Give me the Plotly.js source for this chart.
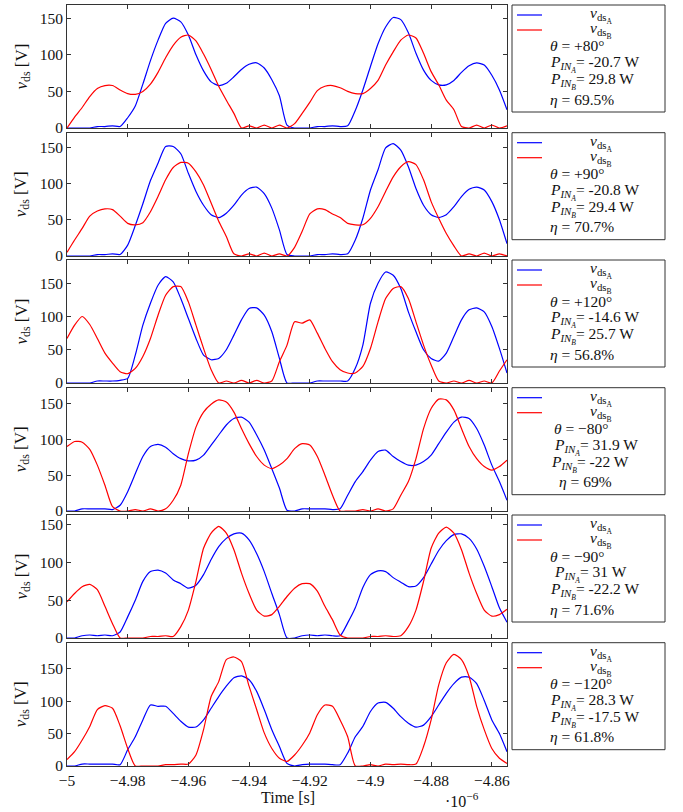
<!DOCTYPE html>
<html><head><meta charset="utf-8">
<script src="https://cdn.plot.ly/plotly-3.0.1.min.js"></script>
<style>html,body{margin:0;padding:0;background:#fff;}#chart{width:683px;height:812px;}</style>
</head><body><div id="chart"></div>
<script>
// time axis in units of 1e-6 s
const time = [-5.0000,-4.9975,-4.9950,-4.9925,-4.9900,-4.9875,-4.9850,-4.9825,-4.9800,-4.9775,
-4.9750,-4.9725,-4.9700,-4.9675,-4.9650,-4.9625,-4.9600,-4.9575,-4.9550,-4.9525,
-4.9500,-4.9475,-4.9450,-4.9425,-4.9400,-4.9375,-4.9350,-4.9325,-4.9300,-4.9275,
-4.9250,-4.9225,-4.9200,-4.9175,-4.9150,-4.9125,-4.9100,-4.9075,-4.9050,-4.9025,
-4.9000,-4.8975,-4.8950,-4.8925,-4.8900,-4.8875,-4.8850,-4.8825,-4.8800,-4.8775,
-4.8750,-4.8725,-4.8700,-4.8675,-4.8650,-4.8625,-4.8600,-4.8575,-4.8550];

const vdsA_p80 = [0,0,0,0,2,2,3,2,14,30, 60,92,120,143,150,145,127,100,78,63, 58,61,70,80,87,89,82,66,44,4, 0,0,0,2,2,3,2,3,24,52, 84,115,138,151,148,130,102,79,65,59, 59,65,76,85,89,86,72,52,25];
const vdsB_p80 = [0,15,28,43,54,58,58,52,47,46, 50,60,76,96,113,124,127,119,101,80, 57,38,20,0,3,0,4,0,4,0, 6,20,35,51,57,58,55,50,47,47, 54,65,86,104,120,127,123,102,77,59, 38,25,2,0,4,0,4,0,3];

const vdsA_p90 = [0,0,0,0,2,2,3,2,15,42, 72,104,128,151,151,141,114,89,70,57, 53,59,70,84,93,95,86,66,36,2, 0,0,0,2,2,3,2,3,22,52, 91,119,149,155,146,123,93,70,57,53, 57,68,82,92,95,91,75,50,17];
const vdsB_p90 = [5,22,38,55,62,65,64,55,45,43, 46,61,82,105,122,129,128,116,98,73, 48,27,3,0,3,0,4,0,3,0, 12,34,58,65,64,58,53,45,43,43, 52,68,89,109,123,130,126,105,75,52, 31,14,0,3,0,4,0,3,0];

const vdsA_p120 = [0,0,0,0,3,3,3,4,7,42, 87,120,147,160,152,127,97,67,42,35, 37,50,72,95,112,113,102,77,37,0, 0,0,0,3,3,3,3,3,22,57, 120,150,167,162,142,107,77,50,37,33, 45,70,95,110,113,107,85,52,15];
const vdsB_p120 = [67,87,100,88,67,45,30,17,14,22, 40,67,102,132,145,145,122,87,52,20, 0,3,0,4,0,4,0,3,32,57, 92,90,95,75,52,32,20,15,15,25, 52,92,127,142,145,127,92,57,27,3, 0,3,0,4,0,3,0,18,35];

const vdsA_m80 = [0,0,3,3,3,3,2,8,27,52, 76,90,93,89,80,73,70,71,78,92, 106,120,129,131,124,106,85,59,32,1, 0,3,3,3,3,2,3,22,41,55, 71,83,85,76,69,64,64,69,78,94, 110,124,131,129,115,92,64,41,15];
const vdsB_m80 = [90,97,96,86,64,36,6,0,0,2, 0,3,0,3,15,36,80,117,138,149, 155,152,138,115,94,76,64,59,64,73, 87,94,92,76,50,22,0,0,0,2, 0,3,0,3,22,41,73,115,143,156, 155,141,115,90,73,62,57,62,71];

const vdsA_m90 = [0,0,3,4,3,4,3,8,28,50, 75,88,90,86,77,72,66,70,84,104, 121,132,138,139,130,112,88,59,31,0, 0,3,4,3,4,3,3,20,40,67, 84,89,88,80,74,68,69,80,98,116, 129,137,138,132,118,95,68,40,21];
const vdsB_m90 = [48,59,68,71,64,42,19,0,0,0, 0,2,2,3,2,15,37,75,119,139, 148,139,117,86,59,37,29,31,42,55, 66,72,72,62,42,24,4,0,0,0, 2,2,3,2,3,15,37,75,119,139, 147,139,117,86,59,37,29,31,38];

const vdsA_m120 = [0,0,3,3,3,3,3,2,25,45, 71,94,92,92,81,69,60,60,71,89, 107,123,136,139,133,115,87,56,30,4, 0,2,3,3,3,2,2,20,45,61, 84,97,98,89,76,66,60,63,76,94, 112,127,137,137,127,101,71,50,22];
const vdsB_m120 = [10,22,40,61,87,93,89,62,27,0, 0,0,0,2,2,3,3,17,56,107, 130,164,168,161,123,87,51,27,12,7, 17,32,51,79,94,92,71,45,0,0, 2,0,3,2,3,2,3,30,71,125, 159,172,164,138,92,56,27,12,4];

const seriesA = [vdsA_p80, vdsA_p90, vdsA_p120, vdsA_m80, vdsA_m90, vdsA_m120];
const seriesB = [vdsB_p80, vdsB_p90, vdsB_p120, vdsB_m80, vdsB_m90, vdsB_m120];

const thetaLabels = ['+80°', '+90°', '+120°', '−80°', '−90°', '−120°'];
const pinA = ['-20.7', '-20.8', '-14.6', '31.9', '31', '28.3'];
const pinB = ['29.8', '29.4', '25.7', '-22', '-22.2', '-17.5'];
const etaLabels = ['69.5%', '70.7%', '56.8%', '69%', '71.6%', '61.8%'];

const xTickVals = [-5, -4.98, -4.96, -4.94, -4.92, -4.9, -4.88, -4.86];
const xTickText = ['−5', '−4.98', '−4.96', '−4.94', '−4.92', '−4.9', '−4.88', '−4.86'];
const yTickVals = [0, 50, 100, 150];
const yTickText = ['0', '50', '100', '150'];
const yMax = [168, 170, 185, 172, 163, 190];
const xMin = -5, xMax = -4.855;

// ---- layout geometry (pixels) ----
const L = 67, R = 507, TOP = 5, BOT = 766;
const panelTop = [5, 132.7, 260, 387.7, 515, 642.7];
const panelBot = [128, 256, 383, 511, 638, 766];
const legIndent = [
  [549,549,549,549],[549,549,549,549],[549,549,549,549],
  [553,553,550,558],[549,553,549,549],[549,549,549,549]];
function px2x(p){return (p-L)/(R-L);}
function py2y(p){return (BOT-p)/(BOT-TOP);}

const FONT = 'Liberation Serif, Times New Roman, serif';
const AX = '#333';
const TXT = '#111';
const traces = [];
const layout = {
  width: 683, height: 812,
  margin: {l: L, r: 683-R, t: TOP, b: 812-BOT, pad: 0},
  paper_bgcolor: '#fff', plot_bgcolor: '#fff',
  showlegend: false,
  font: {family: FONT, size: 15, color: TXT},
  annotations: [], shapes: []
};

for (let k = 0; k < 6; k++) {
  const s = k === 0 ? '' : String(k+1);
  traces.push({x: time, y: seriesA[k], type: 'scatter', mode: 'lines',
    line: {color: '#0000ff', width: 1.2, shape: 'spline', smoothing: 0.6}, xaxis: 'x'+s, yaxis: 'y'+s});
  traces.push({x: time, y: seriesB[k], type: 'scatter', mode: 'lines',
    line: {color: '#ff0000', width: 1.2, shape: 'spline', smoothing: 0.6}, xaxis: 'x'+s, yaxis: 'y'+s});
  layout['xaxis'+s] = {
    domain: [0,1], anchor: 'y'+s, range: [xMin, xMax],
    tickvals: xTickVals, ticktext: xTickText, ticks: 'inside', ticklen: 4,
    tickcolor: AX, showline: true, linecolor: AX, linewidth: 1, mirror: 'allticks',
    showgrid: false, zeroline: false, showticklabels: k === 5,
    tickfont: {family: FONT, size: 15.5, color: TXT}
  };
  layout['yaxis'+s] = {
    domain: [py2y(panelBot[k]), py2y(panelTop[k])], anchor: 'x'+s, range: [0, yMax[k]],
    tickvals: yTickVals, ticktext: yTickText, ticks: 'inside', ticklen: 4,
    tickcolor: AX, showline: true, linecolor: AX, linewidth: 1, mirror: 'allticks',
    showgrid: false, zeroline: false,
    tickfont: {family: FONT, size: 15.5, color: TXT}
  };
  // y title
  layout.annotations.push({xref:'paper', yref:'paper', x: px2x(22), y: py2y((panelTop[k]+panelBot[k])/2),
    text: '<i>v</i><sub>ds</sub> [V]', textangle: -90, showarrow: false,
    xanchor: 'center', yanchor: 'middle', font: {family: FONT, size: 17, color: TXT}});
  // legend box
  const T = panelTop[k];
  layout.shapes.push({type:'rect', xref:'paper', yref:'paper', x0: px2x(512), x1: px2x(665),
    y0: py2y(T+107), y1: py2y(T), line: {color: AX, width: 1}, fillcolor: 'rgba(0,0,0,0)'});
  layout.shapes.push({type:'line', xref:'paper', yref:'paper', x0: px2x(517), x1: px2x(542),
    y0: py2y(T+10), y1: py2y(T+10), line: {color: '#0000ff', width: 1.2}});
  layout.shapes.push({type:'line', xref:'paper', yref:'paper', x0: px2x(517), x1: px2x(542),
    y0: py2y(T+25), y1: py2y(T+25), line: {color: '#ff0000', width: 1.2}});
  const lf = {family: FONT, size: 15.5, color: TXT};
  layout.annotations.push({xref:'paper', yref:'paper', x: px2x(601), y: py2y(T+10),
    text: '<i>v</i><sub>ds<sub>A</sub></sub>', showarrow:false, xanchor:'center', yanchor:'middle', font: lf});
  layout.annotations.push({xref:'paper', yref:'paper', x: px2x(601), y: py2y(T+25),
    text: '<i>v</i><sub>ds<sub>B</sub></sub>', showarrow:false, xanchor:'center', yanchor:'middle', font: lf});
  const lines = [
    '<i>θ</i> = ' + thetaLabels[k],
    '<i>P</i><sub><i>IN<sub>A</sub></i></sub>= ' + pinA[k] + ' W',
    '<i>P</i><sub><i>IN<sub>B</sub></i></sub>= ' + pinB[k] + ' W',
    '<i>η</i> = ' + etaLabels[k]
  ];
  const dy = [41, 59, 76, 94];
  for (let j = 0; j < 4; j++) {
    layout.annotations.push({xref:'paper', yref:'paper', x: px2x(legIndent[k][j] - 1), y: py2y(T+dy[j]),
      text: lines[j], showarrow:false, xanchor:'left', yanchor:'middle', font: lf});
  }
}
layout.annotations.push({xref:'paper', yref:'paper', x: px2x(288), y: py2y(798),
  text: 'Time [s]', showarrow:false, xanchor:'center', yanchor:'middle', font: {family: FONT, size: 16, color: TXT}});
layout.annotations.push({xref:'paper', yref:'paper', x: px2x(462), y: py2y(800),
  text: '·10<sup>−6</sup>', showarrow:false, xanchor:'center', yanchor:'middle', font: {family: FONT, size: 16, color: TXT}});

Plotly.newPlot('chart', traces, layout, {staticPlot: true, displayModeBar: false});
</script>
</body></html>
